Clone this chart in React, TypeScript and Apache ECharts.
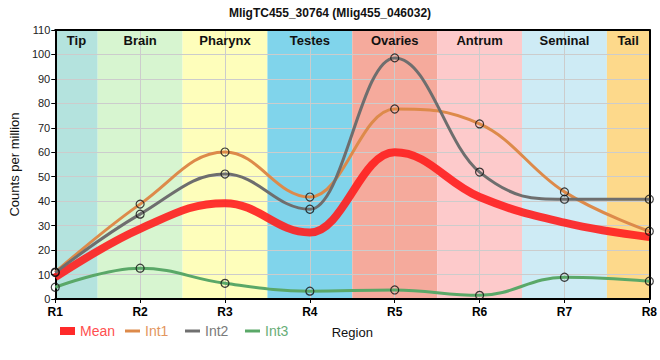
import React, { useEffect, useRef } from 'react';
import * as echarts from 'echarts';

const categories = ['R1', 'R2', 'R3', 'R4', 'R5', 'R6', 'R7', 'R8'];
const meanValues = [8.9, 28.7, 39.2, 27.2, 60.0, 41.7, 31.2, 25.3];
const int1Values = [11.0, 38.8, 60.1, 41.7, 77.7, 71.6, 43.8, 27.7];
const int2Values = [10.8, 34.7, 51.1, 36.7, 98.6, 51.9, 40.8, 40.8];
const int3Values = [4.8, 12.6, 6.4, 3.2, 3.7, 1.5, 8.9, 7.3];

const regionNames = ['Tip', 'Brain', 'Pharynx', 'Testes', 'Ovaries', 'Antrum', 'Seminal', 'Tail'];
const regionStarts = [1, 1.5, 2.5, 3.5, 4.5, 5.5, 6.5, 7.5];
const regionEnds = [1.5, 2.5, 3.5, 4.5, 5.5, 6.5, 7.5, 8];
const regionColors = ['#b4e3de', '#d7f5d0', '#fefebb', '#80d4eb', '#f5aa9c', '#fdcacb', '#ceebf5', '#fdd98b'];

const yMin = 0;
const yMax = 110;
const yInterval = 10;

const FONT = '"Liberation Sans", Arial, sans-serif';

// Spline with smoothing 1.5 and clamped control points (no false extremes)
function splinePath(pts: number[][]): string {
  const n = pts.length;
  const smoothing = 1.5;
  const denom = smoothing + 1;
  const leftC: (number[] | null)[] = new Array(n).fill(null);
  const rightC: (number[] | null)[] = new Array(n).fill(null);
  for (let i = 1; i < n - 1; i++) {
    const [px, py] = pts[i];
    const [lx, ly] = pts[i - 1];
    const [nx, ny] = pts[i + 1];
    const lcx = (smoothing * px + lx) / denom;
    let lcy = (smoothing * py + ly) / denom;
    const rcx = (smoothing * px + nx) / denom;
    let rcy = (smoothing * py + ny) / denom;
    let correction = 0;
    if (rcx !== lcx) {
      correction = ((rcy - lcy) * (rcx - px)) / (rcx - lcx) + py - rcy;
    }
    lcy += correction;
    rcy += correction;
    if (lcy > ly && lcy > py) {
      lcy = Math.max(ly, py);
      rcy = 2 * py - lcy;
    } else if (lcy < ly && lcy < py) {
      lcy = Math.min(ly, py);
      rcy = 2 * py - lcy;
    }
    if (rcy > ny && rcy > py) {
      rcy = Math.max(ny, py);
      lcy = 2 * py - rcy;
    } else if (rcy < ny && rcy < py) {
      rcy = Math.min(ny, py);
      lcy = 2 * py - rcy;
    }
    leftC[i] = [lcx, lcy];
    rightC[i] = [rcx, rcy];
  }
  let d = `M${pts[0][0]},${pts[0][1]}`;
  for (let i = 1; i < n; i++) {
    const c1 = rightC[i - 1] || pts[i - 1];
    const c2 = leftC[i] || pts[i];
    d += ` C${c1[0]},${c1[1]} ${c2[0]},${c2[1]} ${pts[i][0]},${pts[i][1]}`;
  }
  return d;
}

function curveSeries(name: string, vals: number[], color: string, width: number, z: number) {
  return {
    name,
    type: 'custom',
    z,
    itemStyle: { color },
    data: [[1, vals[0]]],
    encode: { x: 0, y: 1 },
    renderItem: (_params: any, api: any) => {
      const pts = vals.map((v, i) => api.coord([i + 1, v]));
      return {
        type: 'path',
        shape: { pathData: splinePath(pts) },
        style: { fill: 'none', stroke: color, lineWidth: width, lineCap: 'butt', lineJoin: 'round' },
      };
    },
  };
}

function markerSeries(name: string, vals: number[]) {
  return {
    name,
    type: 'scatter',
    z: 6,
    silent: true,
    symbol: 'circle',
    symbolSize: 8,
    itemStyle: { color: 'rgba(0,0,0,0)', borderColor: '#111', borderWidth: 1.2 },
    data: vals.map((v, i) => [i + 1, v]),
  };
}

export default function App() {
  const ref = useRef<HTMLDivElement>(null);

  useEffect(() => {
    document.body.style.margin = '0';
    if (!ref.current) return;
    const chart = echarts.init(ref.current, undefined, { renderer: 'svg' });

    const legendBase = {
      top: 319,
      selectedMode: false,
      itemGap: 0,
      textStyle: { fontSize: 14, fontFamily: FONT },
    };

    chart.setOption({
      animation: false,
      textStyle: { fontFamily: FONT },
      title: {
        text: 'MligTC455_30764 (Mlig455_046032)',
        left: 'center',
        top: 2,
        textStyle: { fontSize: 12, fontWeight: 'bold', color: '#111', fontFamily: FONT },
      },
      legend: [
        {
          ...legendBase,
          left: 55,
          itemWidth: 15,
          itemHeight: 8,
          data: [{ name: 'Mean', icon: 'rect', itemStyle: { color: '#ff2a2a' }, textStyle: { color: '#ff4f4f' } }],
        },
        {
          ...legendBase,
          left: 120,
          itemWidth: 15,
          itemHeight: 3,
          data: [{ name: 'Int1', icon: 'rect', itemStyle: { color: '#dd8a4a' }, textStyle: { color: '#e3965e' } }],
        },
        {
          ...legendBase,
          left: 180,
          itemWidth: 15,
          itemHeight: 3,
          data: [{ name: 'Int2', icon: 'rect', itemStyle: { color: '#707070' }, textStyle: { color: '#7a7a7a' } }],
        },
        {
          ...legendBase,
          left: 240,
          itemWidth: 15,
          itemHeight: 3,
          data: [{ name: 'Int3', icon: 'rect', itemStyle: { color: '#5aa868' }, textStyle: { color: '#68ad78' } }],
        },
      ],
      grid: { left: 50, right: 10, top: 30, bottom: 61 },
      xAxis: [
        {
          type: 'value',
          min: 1,
          max: 8,
          interval: 1,
          z: 1,
          name: 'Region',
          nameLocation: 'middle',
          nameGap: 27,
          nameTextStyle: { fontSize: 13, color: '#111', fontFamily: FONT },
          axisLine: { show: true, lineStyle: { color: '#000', width: 2 } },
          axisTick: { show: true, length: 4, lineStyle: { color: '#000' } },
          axisLabel: {
            formatter: (v: number) => categories[Math.round(v) - 1] || '',
            fontSize: 12,
            fontWeight: 'bold',
            color: '#000',
            margin: 7,
          },
          splitLine: { show: true, lineStyle: { color: '#cccccc', width: 1 } },
        },
        {
          type: 'value',
          min: 1,
          max: 8,
          interval: 1,
          position: 'top',
          z: 1,
          axisLine: { show: true, onZero: false, lineStyle: { color: '#000', width: 2 } },
          axisTick: { show: false },
          axisLabel: { show: false },
          splitLine: { show: false },
        },
      ],
      yAxis: [
        {
          type: 'value',
          min: yMin,
          max: yMax,
          interval: yInterval,
          z: 1,
          name: 'Counts per million',
          nameLocation: 'middle',
          nameGap: 31,
          nameTextStyle: { fontSize: 13, color: '#111', fontFamily: FONT },
          axisLine: { show: true, lineStyle: { color: '#000', width: 2 } },
          axisTick: { show: true, length: 4, lineStyle: { color: '#000' } },
          axisLabel: { fontSize: 11, color: '#222', margin: 5 },
          splitLine: { show: true, lineStyle: { color: '#cccccc', width: 1 } },
        },
        {
          type: 'value',
          min: yMin,
          max: yMax,
          interval: yInterval,
          position: 'right',
          z: 1,
          axisLine: { show: true, onZero: false, lineStyle: { color: '#000', width: 2 } },
          axisTick: { show: false },
          axisLabel: { show: false },
          splitLine: { show: false },
        },
      ],
      series: [
        {
          name: 'regions',
          type: 'custom',
          z: 0,
          silent: true,
          dimensions: ['start', 'end', 'idx'],
          encode: { x: [0, 1] },
          data: regionNames.map((_, i) => [regionStarts[i], regionEnds[i], i]),
          renderItem: (_params: any, api: any) => {
            const idx = api.value(2);
            const p0 = api.coord([api.value(0), yMax]);
            const p1 = api.coord([api.value(1), yMin]);
            return {
              type: 'rect',
              shape: { x: p0[0], y: p0[1], width: p1[0] - p0[0], height: p1[1] - p0[1] },
              style: { fill: regionColors[idx] },
            };
          },
        },
        {
          name: 'regionLabels',
          type: 'custom',
          z: 5,
          silent: true,
          dimensions: ['start', 'end', 'idx'],
          encode: { x: [0, 1] },
          data: regionNames.map((_, i) => [regionStarts[i], regionEnds[i], i]),
          renderItem: (_params: any, api: any) => {
            const idx = api.value(2);
            const p0 = api.coord([api.value(0), yMax]);
            const p1 = api.coord([api.value(1), yMin]);
            return {
              type: 'text',
              x: (p0[0] + p1[0]) / 2,
              y: p0[1] + 10,
              style: {
                text: regionNames[idx],
                fill: '#111',
                font: `bold 13px ${FONT}`,
                align: 'center',
                verticalAlign: 'middle',
              },
            };
          },
        },
        curveSeries('Mean', meanValues, 'rgba(255,30,30,0.9)', 8, 2),
        curveSeries('Int1', int1Values, '#dd8a4a', 3, 3),
        curveSeries('Int2', int2Values, '#6e6e6e', 3, 3),
        curveSeries('Int3', int3Values, '#5aa868', 3, 3),
        markerSeries('m1', int1Values),
        markerSeries('m2', int2Values),
        markerSeries('m3', int3Values),
      ],
    });

    return () => {
      chart.dispose();
    };
  }, []);

  return <div ref={ref} style={{ width: 660, height: 360 }} />;
}
